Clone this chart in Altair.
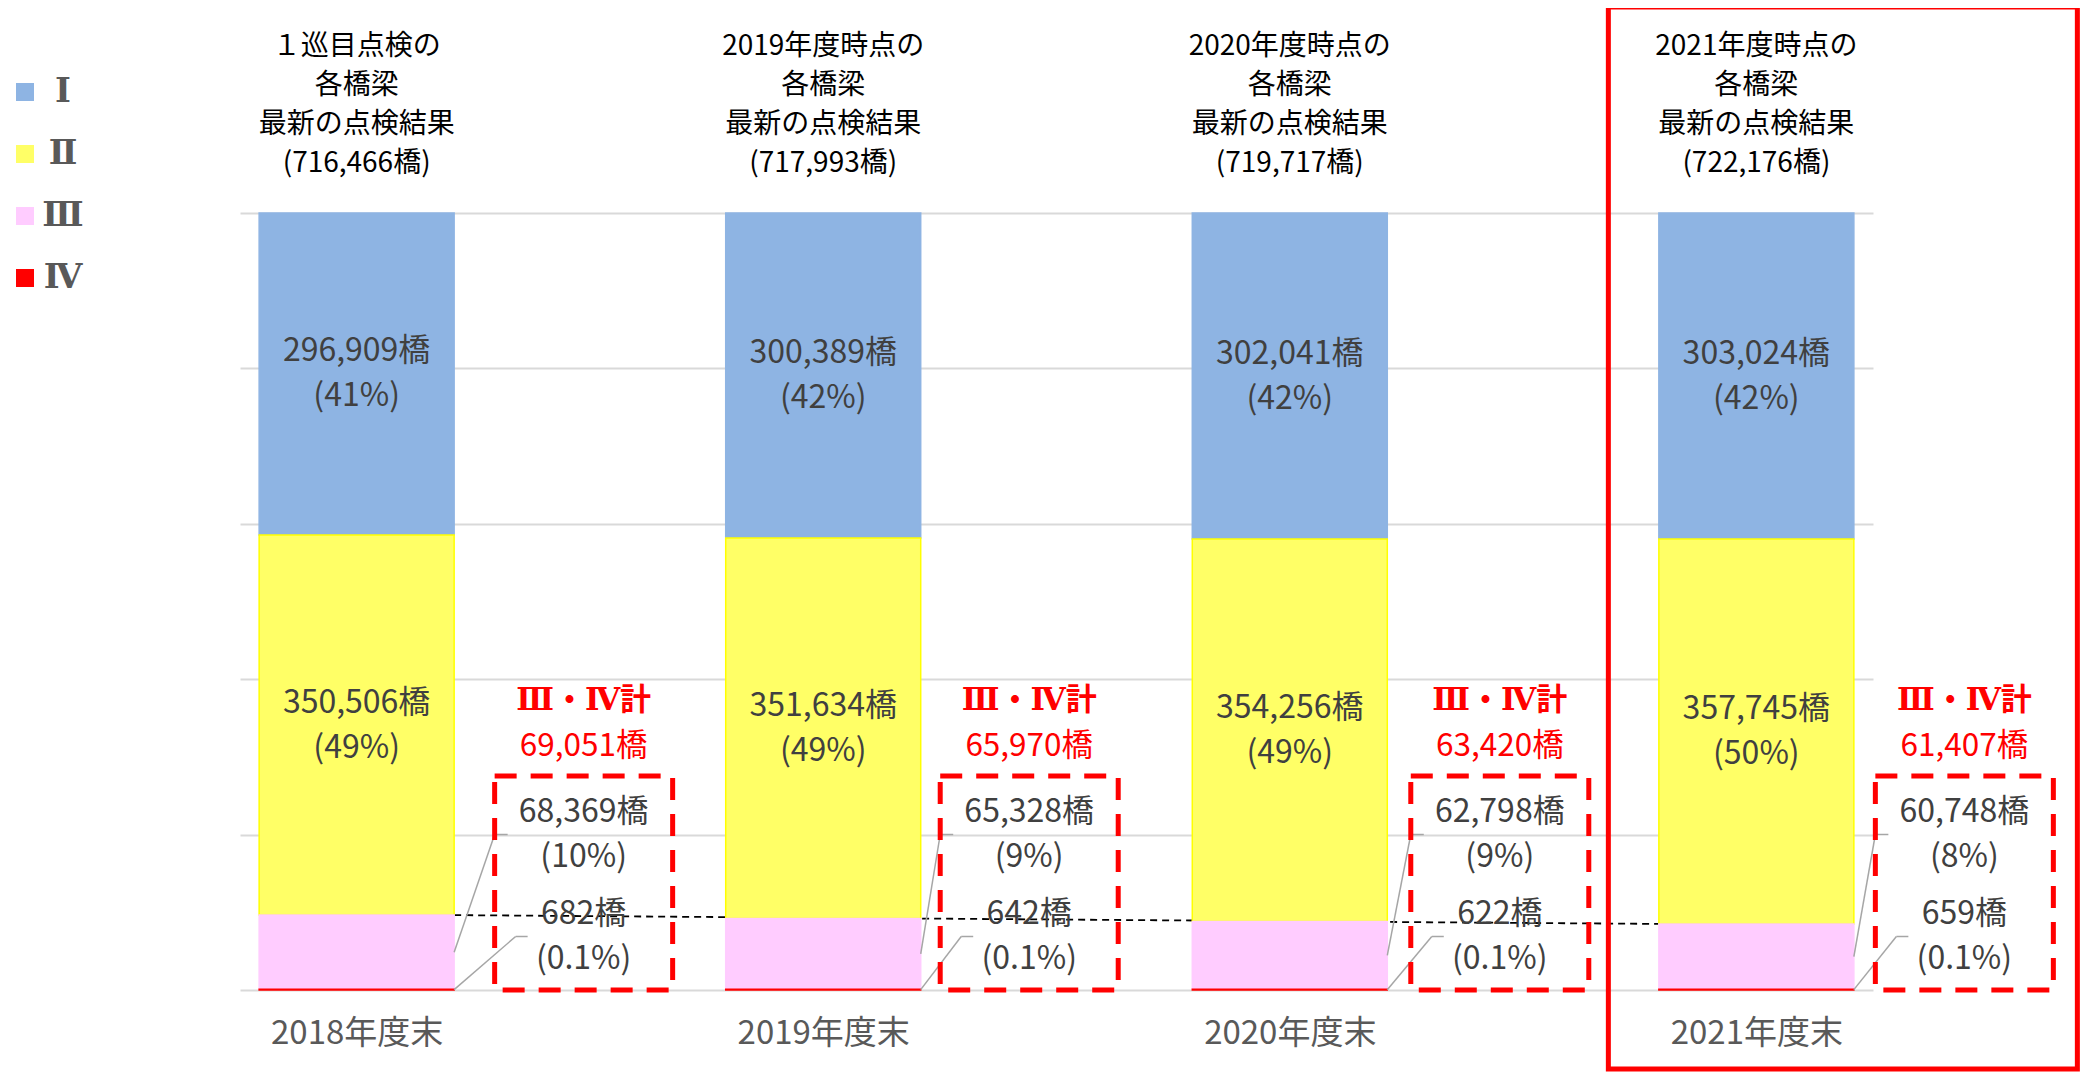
import json
import altair as alt
import pandas as pd

# ---------------- data ----------------
years = ["2018年度末", "2019年度末", "2020年度末", "2021年度末"]
title_first = ["１巡目点検の", "2019年度時点の", "2020年度時点の", "2021年度時点の"]
totals = [716466, 717993, 719717, 722176]
grade_names = ["Ⅰ", "Ⅱ", "Ⅲ", "Ⅳ"]
g1 = [296909, 300389, 302041, 303024]
g2 = [350506, 351634, 354256, 357745]
g3 = [68369, 65328, 62798, 60748]
g4 = [682, 642, 622, 659]
g34 = [69051, 65970, 63420, 61407]
p1 = ["41%", "42%", "42%", "42%"]
p2 = ["49%", "49%", "49%", "50%"]
p3 = ["10%", "9%", "9%", "8%"]
p4 = ["0.1%", "0.1%", "0.1%", "0.1%"]

# ---------------- layout / style constants ----------------
FONT = "Noto Sans CJK JP"
W, H = 1633, 777
XDOM = [-0.25, 3.25]
STEP = W / (XDOM[1] - XDOM[0])      # px per category unit
BAR_HALF = 97.5                      # px
CALLOUT_DX = [227, 206, 210, 208]    # px from bar centre to callout centre
BOX_HALF = 89
LH = 45                              # line height of two-line labels
LABEL_FS = 32
fill_colors = ["#8EB4E3", "#FFFF66", "#FFCCFF", "#FF0000"]
stroke_colors = ["#8EB4E3", "#FFFF00", "#FFCCFF", "#FF0000"]


def ux(px):
    return px / STEP


def uy(px):
    return px / H


XS = alt.Scale(domain=XDOM, nice=False, zero=False)
YS = alt.Scale(domain=[0, 1], nice=False, zero=False)
label_expr = json.dumps(years, ensure_ascii=False) + "[datum.value]"
XAX = alt.Axis(values=[0, 1, 2, 3], labelExpr=label_expr, domain=False, ticks=False,
               tickSize=0, grid=False, labelFont=FONT, labelFontSize=33,
               labelColor="#595959", labelPadding=43, labelBaseline="middle", title=None)
YAX = alt.Axis(values=[0, 0.2, 0.4, 0.6, 0.8, 1.0], labels=False, ticks=False, tickSize=0,
               domain=False, grid=True, gridColor="#D9D9D9", gridWidth=2, title=None)

# ---------------- tables built from the arrays ----------------
bar_rows, in_rows, out_rows, red1_rows, red2_rows, box_rows, lead_rows, title_rows = [], [], [], [], [], [], [], []
series = [g1, g2, g3, g4]
for i in range(4):
    t = totals[i]
    f = [series[k][i] / t for k in range(4)]
    b4 = (0, f[3])
    b3 = (f[3], f[3] + f[2])
    b2 = (b3[1], b3[1] + f[1])
    b1 = (b2[1], 1.0)
    for name, (a, b) in zip(grade_names, [b1, b2, b3, b4]):
        bar_rows.append(dict(x=i - ux(BAR_HALF), x2=i + ux(BAR_HALF), y=a, y2=b, grade=name))
    in_rows.append(dict(x=i, y=(b1[0] + b1[1]) / 2, t=f"{g1[i]:,}橋\n({p1[i]})"))
    in_rows.append(dict(x=i, y=(b2[0] + b2[1]) / 2, t=f"{g2[i]:,}橋\n({p2[i]})"))
    cx = i + ux(CALLOUT_DX[i])
    out_rows.append(dict(x=cx, y=uy(155.5), t=f"{g3[i]:,}橋\n({p3[i]})"))
    out_rows.append(dict(x=cx, y=uy(53.5), t=f"{g4[i]:,}橋\n({p4[i]})"))
    red1_rows.append(dict(x=cx, y=uy(289), t="Ⅲ・Ⅳ計"))
    red2_rows.append(dict(x=cx, y=uy(243), t=f"{g34[i]:,}橋"))
    bl = CALLOUT_DX[i] - BOX_HALF
    box_rows.append(dict(x=i + ux(bl), x2=i + ux(CALLOUT_DX[i] + BOX_HALF), y=uy(214), y2=0))
    right = i + ux(BAR_HALF)
    ym3 = (b3[0] + b3[1]) / 2
    lead_rows.append(dict(x=right, y=ym3, x2=i + ux(bl), y2=uy(155.5)))
    lead_rows.append(dict(x=i + ux(bl), y=uy(155.5), x2=i + ux(bl + 13), y2=uy(155.5)))
    ym4 = (b4[0] + b4[1]) / 2
    lead_rows.append(dict(x=right, y=ym4, x2=i + ux(bl + 21), y2=uy(53.5)))
    lead_rows.append(dict(x=i + ux(bl + 21), y=uy(53.5), x2=i + ux(bl + 33), y2=uy(53.5)))
    title_rows.append(dict(x=i, y=uy(957),
                           t="\n".join([title_first[i], "各橋梁", "最新の点検結果", f"({t:,}橋)"])))

bars = pd.DataFrame(bar_rows)
in_lab = pd.DataFrame(in_rows)
out_lab = pd.DataFrame(out_rows)
red1 = pd.DataFrame(red1_rows)
red2 = pd.DataFrame(red2_rows)
boxes = pd.DataFrame(box_rows)
leads = pd.DataFrame(lead_rows)
titles = pd.DataFrame(title_rows)

top3_first = (g4[0] + g3[0]) / totals[0]
top3_last = (g4[3] + g3[3]) / totals[3]
dash = pd.DataFrame([dict(x=0 + ux(BAR_HALF), y=top3_first, x2=3 - ux(BAR_HALF), y2=top3_last)])
frame = pd.DataFrame([dict(x=3 - ux(148), x2=3 + ux(321), y=uy(983), y2=-uy(79))])


def xy(extra_x2=False):
    enc = dict(x=alt.X("x:Q", scale=XS, axis=XAX), y=alt.Y("y:Q", scale=YS, axis=YAX))
    if extra_x2:
        enc.update(x2="x2:Q", y2="y2:Q")
    return enc


# ---------------- layers ----------------
dash_layer = alt.Chart(dash).mark_rule(color="#000000", strokeWidth=1.8, strokeDash=[7, 5]).encode(**xy(True))

bar_layer = alt.Chart(bars).mark_bar(strokeWidth=1.5).encode(
    color=alt.Color("grade:N", scale=alt.Scale(domain=grade_names, range=fill_colors),
                    legend=alt.Legend(orient="none", legendX=-232, legendY=-138, title=None,
                                      symbolType="square", symbolSize=324, symbolStrokeWidth=0,
                                      labelFont="DejaVu Serif", labelFontWeight="bold",
                                      labelFontSize=34, labelColor="#595959", rowPadding=28,
                                      labelAlign="center", labelOffset=21, padding=0)),
    stroke=alt.Stroke("grade:N", scale=alt.Scale(domain=grade_names, range=stroke_colors),
                      legend=None),
    **xy(True)
)

in_layer = alt.Chart(in_lab).mark_text(font=FONT, fontSize=LABEL_FS, color="#404040", lineBreak="\n",
                                       lineHeight=LH, dy=-LH / 2, baseline="middle",
                                       align="center").encode(text="t:N", **xy())

out_layer = alt.Chart(out_lab).mark_text(font=FONT, fontSize=LABEL_FS, color="#404040", lineBreak="\n",
                                         lineHeight=LH, dy=-LH / 2, baseline="middle",
                                         align="center").encode(text="t:N", **xy())

red1_layer = alt.Chart(red1).mark_text(font="DejaVu Serif, Noto Sans CJK JP", fontSize=31,
                                       color="#FF0000", fontWeight="bold",
                                       baseline="middle", align="center").encode(text="t:N", **xy())
red2_layer = alt.Chart(red2).mark_text(font=FONT, fontSize=31.5, color="#FF0000",
                                       baseline="middle", align="center").encode(text="t:N", **xy())

box_layer = alt.Chart(boxes).mark_rect(fillOpacity=0, stroke="#FF0000", strokeWidth=5,
                                       strokeDash=[22, 14]).encode(**xy(True))

lead_layer = alt.Chart(leads).mark_rule(color="#A6A6A6", strokeWidth=1.5).encode(**xy(True))

title_layer = alt.Chart(titles).mark_text(font=FONT, fontSize=28, color="#000000", lineBreak="\n",
                                          lineHeight=39, baseline="top", align="center").encode(
    text="t:N", **xy())

frame_layer = alt.Chart(frame).mark_rect(fillOpacity=0, stroke="#FF0000", strokeWidth=5).encode(**xy(True))

chart = alt.layer(
    dash_layer, bar_layer, in_layer, lead_layer, box_layer, out_layer, red1_layer, red2_layer,
    title_layer, frame_layer
).properties(
    width=W, height=H,
    autosize=alt.AutoSizeParams(type="none"),
    padding={"left": 232, "top": 205, "right": 208, "bottom": 82},
    background="#FFFFFF",
).configure_view(stroke=None)

chart.save("out.html", embed_options={"renderer": "svg", "actions": False})
